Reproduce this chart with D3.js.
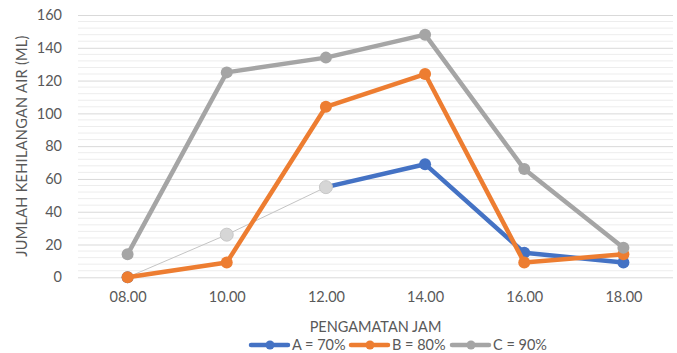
<!DOCTYPE html>
<html>
<head>
<meta charset="utf-8">
<script src="https://cdn.jsdelivr.net/npm/d3@7"></script>
<style>
  html, body { margin: 0; padding: 0; background: #fff; }
  svg { display: block; font-family: Lato, "Open Sans", sans-serif; }
</style>
</head>
<body>
<svg id="chart" width="677" height="353"></svg>
<script>
// Observation hours and water loss (ml) for each treatment
const hours = ["08.00", "10.00", "12.00", "14.00", "16.00", "18.00"];
const seriesA = [0, 26, 55, 69, 15, 9];
const seriesB = [0, 9, 104, 124, 9, 14];
const seriesC = [14, 125, 134, 148, 66, 18];
const seriesNames = ["A = 70%", "B = 80%", "C = 90%"];
const seriesColors = ["#4472C4", "#ED7D31", "#A5A5A5"];
// points of series A drawn in a muted style (marker + incoming segment)
const mutedPointsA = [1, 2];
const yTicks = [0, 20, 40, 60, 80, 100, 120, 140, 160];
const yMinorStep = 4;

const svg = d3.select("#chart");
const x = d3.scalePoint().domain(hours).range([78, 673]).padding(0.5);
const y = d3.scaleLinear().domain([0, 160]).range([277.3, 15]);

const textColor = "#595959";

// minor gridlines
const minor = d3.range(0, 160 + 0.001, yMinorStep).filter(v => v % 20 !== 0);
svg.append("g").selectAll("line").data(minor).join("line")
  .attr("x1", 78).attr("x2", 673)
  .attr("y1", d => y(d)).attr("y2", d => y(d))
  .attr("stroke", "#EDEDED").attr("stroke-width", 1);

// major gridlines + y axis labels
const yAxis = d3.axisLeft(y).tickValues(yTicks).tickSize(-(673 - 78)).tickPadding(16);
const gy = svg.append("g").attr("transform", "translate(78,0)").call(yAxis);
gy.select(".domain").remove();
gy.selectAll(".tick line").attr("stroke", "#D9D9D9").attr("stroke-width", 1);
gy.selectAll(".tick text").attr("fill", textColor).style("font-size", "14.5px")
  .style("font-family", "Lato, sans-serif");

// x axis labels
const xAxis = d3.axisBottom(x).tickSize(0).tickPadding(14);
const gx = svg.append("g").attr("transform", `translate(0,${y(0)})`).call(xAxis);
gx.select(".domain").remove();
gx.selectAll(".tick text").attr("fill", textColor).style("font-size", "14.5px")
  .style("font-family", "Lato, sans-serif");

// axis titles
svg.append("text")
  .attr("x", 375.5).attr("y", 332)
  .attr("text-anchor", "middle")
  .attr("fill", textColor).style("font-size", "14.5px")
  .text("PENGAMATAN JAM");

svg.append("text")
  .attr("transform", `translate(27,146) rotate(-90)`)
  .attr("text-anchor", "middle")
  .attr("fill", textColor).style("font-size", "14.5px")
  .style("letter-spacing", "0.3px")
  .text("JUMLAH KEHILANGAN AIR (ML)");

// series
const allSeries = [seriesA, seriesB, seriesC];
const line = d3.line().x(d => x(d.h)).y(d => y(d.v));

allSeries.forEach((vals, si) => {
  const pts = vals.map((v, i) => ({ h: hours[i], v, i }));
  const muted = si === 0 ? mutedPointsA : [];
  const g = svg.append("g");
  // segments
  for (let i = 1; i < pts.length; i++) {
    const isMuted = muted.includes(i);
    g.append("path")
      .attr("d", line([pts[i - 1], pts[i]]))
      .attr("fill", "none")
      .attr("stroke", isMuted ? "#C4C4C4" : seriesColors[si])
      .attr("stroke-width", isMuted ? 1 : 4.5)
      .attr("stroke-linecap", "round")
      .attr("stroke-linejoin", "round");
  }
  // markers
  g.selectAll("circle").data(pts).join("circle")
    .attr("cx", d => x(d.h)).attr("cy", d => y(d.v))
    .attr("r", d => muted.includes(d.i) ? 6.5 : 6)
    .attr("fill", d => muted.includes(d.i) ? "#D6D6D6" : seriesColors[si])
    .attr("stroke", d => muted.includes(d.i) ? "#C8C8C8" : "none")
    .attr("stroke-width", 1);
});

// legend
const legendX = [251, 351, 452];
const lg = svg.append("g");
seriesNames.forEach((name, i) => {
  const x0 = legendX[i];
  lg.append("line")
    .attr("x1", x0).attr("x2", x0 + 37)
    .attr("y1", 345).attr("y2", 345)
    .attr("stroke", seriesColors[i]).attr("stroke-width", 4.5)
    .attr("stroke-linecap", "round");
  lg.append("circle").attr("cx", x0 + 19).attr("cy", 345).attr("r", 4.5)
    .attr("fill", seriesColors[i]);
  lg.append("text")
    .attr("x", x0 + 41).attr("y", 350)
    .attr("fill", textColor).style("font-size", "14.5px")
    .text(name);
});
</script>
</body>
</html>
